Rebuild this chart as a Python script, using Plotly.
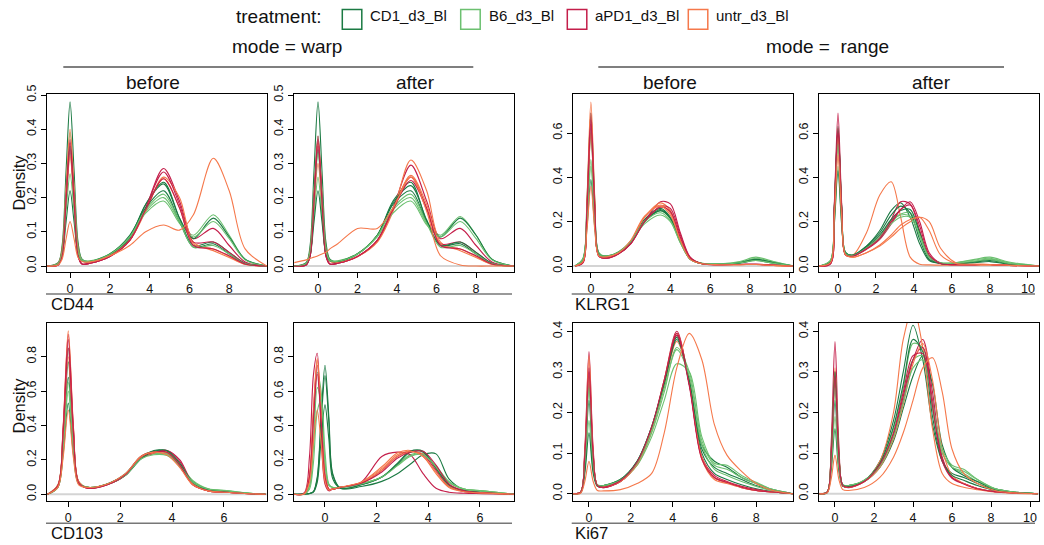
import plotly.graph_objects as go

# ---------------- data ----------------
treatments = ["CD1_d3_Bl", "B6_d3_Bl", "aPD1_d3_Bl", "untr_d3_Bl"]
colors = ["#1b7a43", "#6cc070", "#c41e4a", "#f5784b"]

# CD44, mode = warp, before
cd44_before_x = [-1.2, -0.6, -0.4, -0.2, 0, 0.2, 0.4, 0.6, 1.0, 2.0, 3.0, 3.8, 4.7, 5.5, 6.2, 7.2, 8.0, 8.8, 9.9]
cd44_before = {
    "CD1_d3_Bl": [
        [0, 0.01, 0.06, 0.28, 0.48, 0.28, 0.07, 0.02, 0.012, 0.03, 0.08, 0.18, 0.245, 0.14, 0.06, 0.07, 0.04, 0.008, 0],
        [0, 0.007, 0.045, 0.2, 0.35, 0.2, 0.05, 0.017, 0.013, 0.032, 0.085, 0.18, 0.24, 0.14, 0.08, 0.14, 0.085, 0.02, 0],
        [0, 0.005, 0.03, 0.13, 0.22, 0.13, 0.035, 0.015, 0.013, 0.035, 0.09, 0.17, 0.22, 0.13, 0.055, 0.065, 0.035, 0.007, 0]],
    "B6_d3_Bl": [
        [0, 0.008, 0.05, 0.23, 0.39, 0.23, 0.055, 0.018, 0.014, 0.035, 0.085, 0.16, 0.20, 0.13, 0.09, 0.15, 0.09, 0.02, 0],
        [0, 0.007, 0.04, 0.19, 0.33, 0.19, 0.05, 0.018, 0.015, 0.036, 0.085, 0.155, 0.19, 0.125, 0.085, 0.13, 0.08, 0.018, 0],
        [0, 0.006, 0.035, 0.16, 0.27, 0.16, 0.04, 0.016, 0.014, 0.034, 0.085, 0.165, 0.21, 0.13, 0.055, 0.06, 0.035, 0.007, 0]],
    "aPD1_d3_Bl": [
        [0, 0.003, 0.03, 0.2, 0.37, 0.2, 0.03, 0.006, 0.008, 0.028, 0.075, 0.17, 0.285, 0.19, 0.08, 0.11, 0.06, 0.012, 0],
        [0, 0.003, 0.03, 0.2, 0.36, 0.2, 0.03, 0.006, 0.008, 0.028, 0.075, 0.17, 0.275, 0.18, 0.07, 0.07, 0.04, 0.008, 0],
        [0, 0.003, 0.028, 0.19, 0.34, 0.19, 0.03, 0.006, 0.008, 0.028, 0.075, 0.165, 0.255, 0.17, 0.06, 0.05, 0.03, 0.006, 0]],
    "untr_d3_Bl": [
        [0, 0.008, 0.05, 0.23, 0.40, 0.23, 0.055, 0.016, 0.012, 0.03, 0.075, 0.16, 0.26, 0.2, 0.07, 0.045, 0.025, 0.005, 0],
        [0, 0.007, 0.04, 0.19, 0.32, 0.19, 0.045, 0.015, 0.012, 0.03, 0.075, 0.165, 0.255, 0.17, 0.065, 0.05, 0.028, 0.005, 0],
        [0, 0.003, 0.02, 0.08, 0.13, 0.08, 0.025, 0.013, 0.012, 0.03, 0.06, 0.1, 0.12, 0.105, 0.15, 0.315, 0.22, 0.05, 0]],
}

# CD44, mode = warp, after
cd44_after_x = [-1.2, -0.6, -0.4, -0.2, 0, 0.2, 0.4, 0.6, 1.0, 2.0, 3.0, 3.8, 4.7, 5.5, 6.2, 7.2, 8.0, 8.8, 9.9]
cd44_after = {
    "CD1_d3_Bl": [
        [0, 0.01, 0.06, 0.28, 0.48, 0.28, 0.07, 0.02, 0.012, 0.035, 0.09, 0.19, 0.245, 0.13, 0.06, 0.065, 0.035, 0.007, 0],
        [0, 0.007, 0.045, 0.2, 0.34, 0.2, 0.05, 0.017, 0.013, 0.035, 0.09, 0.18, 0.22, 0.13, 0.085, 0.14, 0.09, 0.02, 0],
        [0, 0.005, 0.03, 0.13, 0.22, 0.13, 0.035, 0.015, 0.013, 0.036, 0.09, 0.185, 0.235, 0.135, 0.06, 0.07, 0.04, 0.008, 0]],
    "B6_d3_Bl": [
        [0, 0.008, 0.05, 0.22, 0.38, 0.22, 0.055, 0.018, 0.014, 0.036, 0.09, 0.165, 0.20, 0.125, 0.09, 0.145, 0.09, 0.02, 0],
        [0, 0.006, 0.035, 0.15, 0.26, 0.15, 0.04, 0.016, 0.015, 0.036, 0.085, 0.155, 0.19, 0.12, 0.085, 0.13, 0.08, 0.018, 0],
        [0, 0.007, 0.04, 0.19, 0.33, 0.19, 0.045, 0.016, 0.014, 0.035, 0.088, 0.17, 0.21, 0.125, 0.055, 0.06, 0.035, 0.007, 0]],
    "aPD1_d3_Bl": [
        [0, 0.003, 0.03, 0.2, 0.38, 0.2, 0.03, 0.006, 0.008, 0.028, 0.075, 0.17, 0.295, 0.19, 0.08, 0.11, 0.06, 0.012, 0],
        [0, 0.003, 0.03, 0.2, 0.37, 0.2, 0.03, 0.006, 0.008, 0.028, 0.075, 0.17, 0.26, 0.17, 0.065, 0.07, 0.04, 0.008, 0],
        [0, 0.003, 0.028, 0.19, 0.35, 0.19, 0.03, 0.006, 0.008, 0.028, 0.075, 0.165, 0.25, 0.165, 0.06, 0.05, 0.03, 0.006, 0]],
    "untr_d3_Bl": [
        [0, 0.007, 0.045, 0.21, 0.36, 0.21, 0.05, 0.015, 0.011, 0.028, 0.07, 0.16, 0.31, 0.22, 0.07, 0.045, 0.025, 0.005, 0],
        [0, 0.006, 0.04, 0.18, 0.30, 0.18, 0.045, 0.014, 0.011, 0.028, 0.072, 0.165, 0.265, 0.18, 0.065, 0.05, 0.028, 0.005, 0],
        [0.01, 0.018, 0.022, 0.026, 0.03, 0.035, 0.04, 0.05, 0.065, 0.11, 0.11, 0.17, 0.26, 0.16, 0.03, 0.003, 0, 0, 0]],
}

# KLRG1, mode = range, before
klrg1_before_x = [-0.8, -0.4, -0.2, 0, 0.2, 0.4, 0.8, 1.4, 2.0, 2.7, 3.5, 4.0, 4.5, 5.0, 5.6, 6.5, 7.5, 8.3, 9.2, 10.2]
klrg1_before = {
    "CD1_d3_Bl": [
        [0, 0.03, 0.29, 0.69, 0.29, 0.06, 0.04, 0.06, 0.11, 0.21, 0.26, 0.22, 0.11, 0.03, 0.01, 0.008, 0.015, 0.03, 0.015, 0],
        [0, 0.03, 0.25, 0.60, 0.25, 0.055, 0.04, 0.058, 0.105, 0.2, 0.255, 0.215, 0.11, 0.03, 0.01, 0.008, 0.013, 0.025, 0.012, 0],
        [0, 0.025, 0.17, 0.39, 0.17, 0.05, 0.045, 0.062, 0.11, 0.2, 0.25, 0.215, 0.11, 0.032, 0.011, 0.008, 0.015, 0.03, 0.015, 0]],
    "B6_d3_Bl": [
        [0, 0.035, 0.26, 0.62, 0.26, 0.06, 0.045, 0.065, 0.11, 0.2, 0.25, 0.215, 0.11, 0.033, 0.012, 0.01, 0.02, 0.04, 0.02, 0],
        [0, 0.03, 0.21, 0.48, 0.21, 0.055, 0.045, 0.065, 0.11, 0.19, 0.23, 0.2, 0.105, 0.032, 0.012, 0.01, 0.018, 0.035, 0.018, 0],
        [0, 0.03, 0.2, 0.45, 0.2, 0.05, 0.045, 0.062, 0.11, 0.2, 0.24, 0.205, 0.105, 0.03, 0.011, 0.009, 0.015, 0.025, 0.012, 0]],
    "aPD1_d3_Bl": [
        [0, 0.015, 0.27, 0.69, 0.27, 0.045, 0.035, 0.055, 0.1, 0.2, 0.29, 0.28, 0.15, 0.04, 0.01, 0.006, 0.007, 0.008, 0.004, 0],
        [0, 0.015, 0.26, 0.66, 0.26, 0.045, 0.035, 0.055, 0.1, 0.2, 0.27, 0.26, 0.14, 0.038, 0.01, 0.006, 0.007, 0.008, 0.004, 0],
        [0, 0.015, 0.25, 0.64, 0.25, 0.045, 0.036, 0.056, 0.1, 0.2, 0.265, 0.245, 0.13, 0.035, 0.01, 0.006, 0.007, 0.008, 0.004, 0]],
    "untr_d3_Bl": [
        [0, 0.02, 0.3, 0.74, 0.3, 0.05, 0.04, 0.06, 0.11, 0.22, 0.285, 0.25, 0.12, 0.032, 0.01, 0.006, 0.006, 0.007, 0.003, 0],
        [0, 0.02, 0.25, 0.60, 0.25, 0.05, 0.04, 0.06, 0.11, 0.22, 0.275, 0.24, 0.12, 0.032, 0.01, 0.006, 0.006, 0.007, 0.003, 0],
        [0, 0.02, 0.16, 0.36, 0.16, 0.045, 0.042, 0.06, 0.115, 0.225, 0.27, 0.23, 0.115, 0.03, 0.01, 0.006, 0.006, 0.007, 0.003, 0]],
}

# KLRG1, mode = range, after
klrg1_after_x = [-1.0, -0.4, -0.2, 0, 0.2, 0.4, 0.8, 1.5, 2.2, 2.8, 3.3, 3.8, 4.3, 4.8, 5.4, 6.2, 7.2, 8.0, 9.0, 10.6]
klrg1_after = {
    "CD1_d3_Bl": [
        [0, 0.02, 0.26, 0.63, 0.26, 0.06, 0.05, 0.09, 0.16, 0.25, 0.285, 0.22, 0.1, 0.025, 0.012, 0.012, 0.02, 0.03, 0.012, 0],
        [0, 0.02, 0.25, 0.61, 0.25, 0.06, 0.048, 0.085, 0.14, 0.21, 0.25, 0.255, 0.15, 0.04, 0.012, 0.01, 0.018, 0.025, 0.01, 0],
        [0, 0.02, 0.18, 0.43, 0.18, 0.055, 0.05, 0.09, 0.15, 0.23, 0.27, 0.24, 0.12, 0.03, 0.012, 0.01, 0.015, 0.02, 0.008, 0]],
    "B6_d3_Bl": [
        [0, 0.025, 0.26, 0.62, 0.26, 0.06, 0.048, 0.08, 0.13, 0.2, 0.235, 0.24, 0.15, 0.045, 0.015, 0.015, 0.03, 0.04, 0.018, 0],
        [0, 0.025, 0.19, 0.45, 0.19, 0.055, 0.048, 0.08, 0.13, 0.2, 0.23, 0.225, 0.135, 0.04, 0.015, 0.015, 0.027, 0.035, 0.015, 0],
        [0, 0.025, 0.23, 0.55, 0.23, 0.055, 0.047, 0.08, 0.125, 0.19, 0.22, 0.22, 0.14, 0.04, 0.014, 0.013, 0.022, 0.03, 0.012, 0]],
    "aPD1_d3_Bl": [
        [0, 0.01, 0.27, 0.69, 0.27, 0.05, 0.045, 0.08, 0.13, 0.21, 0.29, 0.28, 0.16, 0.04, 0.01, 0.006, 0.006, 0.007, 0.003, 0],
        [0, 0.01, 0.24, 0.60, 0.24, 0.05, 0.045, 0.075, 0.12, 0.19, 0.255, 0.29, 0.2, 0.06, 0.012, 0.006, 0.006, 0.007, 0.003, 0],
        [0, 0.01, 0.25, 0.62, 0.25, 0.05, 0.045, 0.078, 0.125, 0.2, 0.255, 0.275, 0.18, 0.05, 0.011, 0.006, 0.006, 0.007, 0.003, 0]],
    "untr_d3_Bl": [
        [0, 0.015, 0.22, 0.55, 0.22, 0.05, 0.05, 0.15, 0.32, 0.38, 0.22, 0.04, 0.008, 0.005, 0.004, 0.004, 0.004, 0.004, 0.002, 0],
        [0, 0.015, 0.24, 0.58, 0.24, 0.05, 0.04, 0.06, 0.09, 0.13, 0.17, 0.2, 0.22, 0.2, 0.08, 0.015, 0.008, 0.007, 0.003, 0],
        [0, 0.015, 0.21, 0.50, 0.21, 0.05, 0.04, 0.06, 0.095, 0.14, 0.185, 0.21, 0.22, 0.16, 0.05, 0.012, 0.008, 0.007, 0.003, 0]],
}

# CD103, mode = warp, before
cd103_before_x = [-0.8, -0.4, -0.2, 0, 0.2, 0.4, 0.75, 1.5, 2.2, 2.8, 3.3, 3.8, 4.3, 4.8, 5.4, 6.1, 6.8, 7.6]
cd103_before = {
    "CD1_d3_Bl": [
        [0, 0.05, 0.33, 0.77, 0.33, 0.07, 0.04, 0.06, 0.12, 0.22, 0.25, 0.24, 0.16, 0.06, 0.025, 0.015, 0.006, 0],
        [0, 0.045, 0.3, 0.68, 0.3, 0.065, 0.04, 0.06, 0.115, 0.21, 0.255, 0.25, 0.17, 0.065, 0.025, 0.015, 0.006, 0],
        [0, 0.04, 0.23, 0.53, 0.23, 0.06, 0.04, 0.058, 0.11, 0.205, 0.25, 0.255, 0.18, 0.07, 0.027, 0.016, 0.006, 0]],
    "B6_d3_Bl": [
        [0, 0.055, 0.36, 0.85, 0.36, 0.075, 0.04, 0.06, 0.115, 0.215, 0.24, 0.23, 0.17, 0.075, 0.03, 0.022, 0.008, 0],
        [0, 0.045, 0.28, 0.65, 0.28, 0.065, 0.04, 0.058, 0.11, 0.21, 0.235, 0.235, 0.175, 0.08, 0.032, 0.022, 0.008, 0],
        [0, 0.04, 0.26, 0.60, 0.26, 0.06, 0.04, 0.058, 0.11, 0.205, 0.23, 0.225, 0.165, 0.07, 0.03, 0.02, 0.008, 0]],
    "aPD1_d3_Bl": [
        [0, 0.05, 0.38, 0.93, 0.38, 0.07, 0.035, 0.055, 0.11, 0.215, 0.245, 0.255, 0.19, 0.06, 0.02, 0.012, 0.005, 0],
        [0, 0.05, 0.37, 0.90, 0.37, 0.07, 0.035, 0.055, 0.11, 0.21, 0.24, 0.255, 0.2, 0.065, 0.02, 0.012, 0.005, 0],
        [0, 0.05, 0.35, 0.85, 0.35, 0.065, 0.036, 0.056, 0.115, 0.22, 0.245, 0.245, 0.17, 0.055, 0.02, 0.012, 0.005, 0]],
    "untr_d3_Bl": [
        [0, 0.055, 0.39, 0.95, 0.39, 0.075, 0.038, 0.058, 0.115, 0.22, 0.245, 0.24, 0.165, 0.055, 0.02, 0.012, 0.005, 0],
        [0, 0.05, 0.33, 0.80, 0.33, 0.07, 0.038, 0.058, 0.115, 0.215, 0.24, 0.245, 0.175, 0.06, 0.02, 0.012, 0.005, 0],
        [0, 0.04, 0.21, 0.49, 0.21, 0.055, 0.04, 0.06, 0.12, 0.22, 0.245, 0.23, 0.155, 0.055, 0.02, 0.012, 0.005, 0]],
}

# CD103, mode = warp, after
cd103_after_x = [-1.2, -0.8, -0.6, -0.45, -0.3, -0.15, 0, 0.15, 0.3, 0.6, 1.4, 2.2, 2.8, 3.3, 3.8, 4.3, 4.8, 5.4, 6.1, 7.35]
cd103_after = {
    "CD1_d3_Bl": [
        [0, 0.002, 0.005, 0.015, 0.1, 0.45, 0.75, 0.45, 0.12, 0.035, 0.045, 0.075, 0.12, 0.175, 0.23, 0.235, 0.09, 0.025, 0.01, 0],
        [0, 0.002, 0.005, 0.014, 0.09, 0.42, 0.69, 0.42, 0.11, 0.035, 0.055, 0.1, 0.18, 0.25, 0.25, 0.15, 0.055, 0.02, 0.012, 0],
        [0, 0.002, 0.004, 0.012, 0.07, 0.32, 0.52, 0.32, 0.09, 0.035, 0.055, 0.1, 0.175, 0.245, 0.245, 0.15, 0.055, 0.02, 0.012, 0]],
    "B6_d3_Bl": [
        [0, 0.002, 0.05, 0.31, 0.71, 0.6, 0.19, 0.055, 0.04, 0.04, 0.06, 0.1, 0.17, 0.23, 0.235, 0.16, 0.07, 0.03, 0.02, 0],
        [0, 0.002, 0.045, 0.27, 0.62, 0.52, 0.17, 0.05, 0.04, 0.04, 0.06, 0.1, 0.17, 0.225, 0.23, 0.165, 0.075, 0.03, 0.02, 0],
        [0, 0.002, 0.03, 0.18, 0.48, 0.55, 0.25, 0.06, 0.04, 0.04, 0.06, 0.1, 0.165, 0.22, 0.23, 0.16, 0.07, 0.03, 0.02, 0]],
    "aPD1_d3_Bl": [
        [0, 0.01, 0.22, 0.69, 0.82, 0.35, 0.06, 0.02, 0.03, 0.04, 0.07, 0.22, 0.245, 0.23, 0.12, 0.035, 0.012, 0.006, 0.004, 0],
        [0, 0.003, 0.1, 0.46, 0.75, 0.46, 0.11, 0.03, 0.03, 0.04, 0.065, 0.14, 0.22, 0.25, 0.23, 0.14, 0.05, 0.015, 0.008, 0],
        [0, 0.003, 0.1, 0.43, 0.70, 0.43, 0.1, 0.03, 0.03, 0.04, 0.065, 0.13, 0.21, 0.245, 0.25, 0.17, 0.06, 0.02, 0.01, 0]],
    "untr_d3_Bl": [
        [0, 0.004, 0.11, 0.48, 0.79, 0.48, 0.11, 0.03, 0.03, 0.04, 0.07, 0.16, 0.24, 0.255, 0.22, 0.13, 0.045, 0.015, 0.008, 0],
        [0, 0.004, 0.11, 0.48, 0.78, 0.48, 0.11, 0.03, 0.03, 0.04, 0.065, 0.14, 0.22, 0.245, 0.235, 0.15, 0.05, 0.018, 0.009, 0],
        [0, 0.003, 0.07, 0.3, 0.49, 0.3, 0.075, 0.025, 0.03, 0.042, 0.07, 0.15, 0.23, 0.25, 0.22, 0.12, 0.04, 0.015, 0.008, 0]],
}

# Ki67, mode = range, before
ki67_before_x = [-0.77, -0.4, -0.2, 0, 0.2, 0.4, 0.7, 1.5, 2.3, 3.0, 3.6, 4.2, 4.8, 5.4, 6.0, 6.6, 7.3, 8.0, 8.8, 9.75]
ki67_before = {
    "CD1_d3_Bl": [
        [0, 0.004, 0.09, 0.27, 0.09, 0.02, 0.018, 0.03, 0.075, 0.16, 0.27, 0.39, 0.28, 0.12, 0.08, 0.065, 0.04, 0.025, 0.01, 0],
        [0, 0.003, 0.075, 0.23, 0.075, 0.02, 0.02, 0.035, 0.08, 0.165, 0.275, 0.385, 0.27, 0.1, 0.05, 0.035, 0.022, 0.012, 0.005, 0],
        [0, 0.002, 0.05, 0.15, 0.05, 0.018, 0.02, 0.035, 0.08, 0.165, 0.27, 0.38, 0.28, 0.11, 0.065, 0.05, 0.035, 0.02, 0.008, 0]],
    "B6_d3_Bl": [
        [0, 0.004, 0.095, 0.29, 0.095, 0.022, 0.02, 0.032, 0.07, 0.15, 0.25, 0.36, 0.3, 0.13, 0.07, 0.06, 0.04, 0.025, 0.01, 0],
        [0, 0.003, 0.06, 0.18, 0.06, 0.02, 0.02, 0.035, 0.07, 0.14, 0.23, 0.32, 0.3, 0.14, 0.075, 0.07, 0.045, 0.028, 0.01, 0],
        [0, 0.004, 0.085, 0.26, 0.085, 0.02, 0.02, 0.033, 0.075, 0.155, 0.26, 0.355, 0.29, 0.12, 0.06, 0.045, 0.03, 0.018, 0.007, 0]],
    "aPD1_d3_Bl": [
        [0, 0.004, 0.11, 0.35, 0.11, 0.02, 0.015, 0.03, 0.075, 0.16, 0.28, 0.4, 0.27, 0.09, 0.04, 0.028, 0.015, 0.008, 0.004, 0],
        [0, 0.004, 0.1, 0.31, 0.1, 0.02, 0.015, 0.03, 0.075, 0.16, 0.275, 0.395, 0.27, 0.09, 0.045, 0.03, 0.018, 0.01, 0.005, 0],
        [0, 0.004, 0.095, 0.3, 0.095, 0.02, 0.016, 0.032, 0.078, 0.165, 0.28, 0.39, 0.265, 0.085, 0.04, 0.028, 0.016, 0.008, 0.004, 0]],
    "untr_d3_Bl": [
        [0, 0.004, 0.105, 0.34, 0.105, 0.02, 0.016, 0.03, 0.075, 0.16, 0.28, 0.395, 0.275, 0.085, 0.035, 0.025, 0.015, 0.008, 0.004, 0],
        [0, 0.004, 0.09, 0.29, 0.09, 0.02, 0.017, 0.03, 0.072, 0.155, 0.265, 0.375, 0.28, 0.09, 0.04, 0.028, 0.016, 0.008, 0.004, 0],
        [0, 0.001, 0.03, 0.08, 0.03, 0.008, 0.007, 0.01, 0.025, 0.05, 0.15, 0.31, 0.395, 0.33, 0.17, 0.095, 0.055, 0.025, 0.008, 0]],
}

# Ki67, mode = range, after
ki67_after_x = [-0.8, -0.4, -0.2, 0, 0.2, 0.4, 0.7, 1.5, 2.3, 3.0, 3.5, 4.0, 4.5, 5.0, 5.5, 6.0, 6.6, 7.3, 8.2, 9.2, 10.4]
ki67_after = {
    "CD1_d3_Bl": [
        [0, 0.003, 0.075, 0.23, 0.075, 0.02, 0.018, 0.032, 0.08, 0.18, 0.3, 0.415, 0.33, 0.17, 0.08, 0.05, 0.04, 0.025, 0.01, 0.003, 0],
        [0, 0.002, 0.055, 0.16, 0.055, 0.018, 0.02, 0.03, 0.065, 0.13, 0.21, 0.29, 0.34, 0.27, 0.12, 0.065, 0.045, 0.03, 0.012, 0.004, 0],
        [0, 0.004, 0.1, 0.3, 0.1, 0.022, 0.018, 0.032, 0.075, 0.165, 0.27, 0.38, 0.35, 0.19, 0.08, 0.045, 0.033, 0.02, 0.008, 0.003, 0]],
    "B6_d3_Bl": [
        [0, 0.004, 0.09, 0.28, 0.09, 0.022, 0.02, 0.033, 0.075, 0.16, 0.26, 0.37, 0.36, 0.21, 0.1, 0.065, 0.05, 0.03, 0.012, 0.004, 0],
        [0, 0.003, 0.065, 0.19, 0.065, 0.02, 0.02, 0.033, 0.07, 0.15, 0.24, 0.33, 0.34, 0.21, 0.1, 0.065, 0.055, 0.035, 0.013, 0.004, 0],
        [0, 0.004, 0.085, 0.26, 0.085, 0.02, 0.02, 0.033, 0.068, 0.14, 0.225, 0.31, 0.33, 0.22, 0.11, 0.07, 0.06, 0.035, 0.012, 0.004, 0]],
    "aPD1_d3_Bl": [
        [0, 0.004, 0.12, 0.375, 0.12, 0.02, 0.015, 0.03, 0.07, 0.14, 0.23, 0.33, 0.38, 0.25, 0.09, 0.04, 0.025, 0.013, 0.005, 0.002, 0],
        [0, 0.004, 0.095, 0.3, 0.095, 0.02, 0.016, 0.03, 0.07, 0.145, 0.24, 0.33, 0.36, 0.23, 0.085, 0.04, 0.025, 0.013, 0.005, 0.002, 0],
        [0, 0.004, 0.09, 0.29, 0.09, 0.02, 0.016, 0.03, 0.072, 0.15, 0.25, 0.34, 0.345, 0.215, 0.08, 0.038, 0.024, 0.012, 0.005, 0.002, 0]],
    "untr_d3_Bl": [
        [0, 0.004, 0.1, 0.31, 0.1, 0.02, 0.016, 0.03, 0.08, 0.2, 0.38, 0.46, 0.36, 0.16, 0.05, 0.025, 0.016, 0.01, 0.004, 0.001, 0],
        [0, 0.004, 0.095, 0.30, 0.095, 0.02, 0.016, 0.03, 0.065, 0.135, 0.22, 0.32, 0.37, 0.28, 0.11, 0.045, 0.025, 0.013, 0.005, 0.002, 0],
        [0, 0.002, 0.035, 0.095, 0.035, 0.01, 0.008, 0.015, 0.04, 0.09, 0.15, 0.23, 0.31, 0.335, 0.25, 0.11, 0.05, 0.025, 0.008, 0.002, 0]],
}

markers = ["CD44", "KLRG1", "CD103", "Ki67"]
mode_titles = ["mode = warp", "mode =\u00a0 range"]
stage_titles = ["before", "after"]

# ---------------- layout helpers ----------------
W, H = 1044, 545
def px(x):
    return x / W
def py(y):
    return 1 - y / H

FONT = "Liberation Sans, Arial, Helvetica, sans-serif"

panels = [
    dict(x=cd44_before_x, d=cd44_before, bx=(47, 267), by=(94, 272), xr=[-1.16, 9.9], yr=[-0.0175, 0.503],
         xt=[0, 2, 4, 6, 8], yt=[0, 0.1, 0.2, 0.3, 0.4, 0.5]),
    dict(x=cd44_after_x, d=cd44_after, bx=(294, 514), by=(94, 272), xr=[-1.215, 9.92], yr=[-0.0175, 0.503],
         xt=[0, 2, 4, 6, 8], yt=[0, 0.1, 0.2, 0.3, 0.4, 0.5]),
    dict(x=klrg1_before_x, d=klrg1_before, bx=(573, 793), by=(94, 272), xr=[-0.9, 10.17], yr=[-0.027, 0.776],
         xt=[0, 2, 4, 6, 8, 10], yt=[0, 0.2, 0.4, 0.6]),
    dict(x=klrg1_after_x, d=klrg1_after, bx=(819, 1039), by=(94, 272), xr=[-1.0, 10.58], yr=[-0.027, 0.776],
         xt=[0, 2, 4, 6, 8, 10], yt=[0, 0.2, 0.4, 0.6]),
    dict(x=cd103_before_x, d=cd103_before, bx=(47, 267), by=(323, 501), xr=[-0.82, 7.66], yr=[-0.039, 0.996],
         xt=[0, 2, 4, 6], yt=[0, 0.2, 0.4, 0.6, 0.8]),
    dict(x=cd103_after_x, d=cd103_after, bx=(294, 514), by=(323, 501), xr=[-1.2, 7.32], yr=[-0.039, 0.996],
         xt=[0, 2, 4, 6], yt=[0, 0.2, 0.4, 0.6, 0.8]),
    dict(x=ki67_before_x, d=ki67_before, bx=(573, 793), by=(323, 501), xr=[-0.765, 9.76], yr=[-0.018, 0.4205],
         xt=[0, 2, 4, 6, 8], yt=[0, 0.1, 0.2, 0.3, 0.4]),
    dict(x=ki67_after_x, d=ki67_after, bx=(819, 1039), by=(323, 501), xr=[-0.82, 10.46], yr=[-0.018, 0.4205],
         xt=[0, 2, 4, 6, 8, 10], yt=[0, 0.1, 0.2, 0.3, 0.4]),
]

fig = go.Figure()
layout = dict(width=W, height=H, margin=dict(l=0, r=0, t=0, b=0, autoexpand=False), paper_bgcolor="white",
              plot_bgcolor="white", showlegend=False, font=dict(family=FONT, color="#111"))
shapes = []
annotations = []

for i, p in enumerate(panels):
    n = i + 1
    xa = "x" if n == 1 else f"x{n}"
    ya = "y" if n == 1 else f"y{n}"
    # zero baseline
    shapes.append(dict(type="line", xref=f"{xa} domain", yref=ya, x0=0, x1=1, y0=0, y1=0,
                       line=dict(color="#d4d4d4", width=2), layer="below"))
    for s in range(3):
        for t, tr in enumerate(treatments):
            fig.add_trace(go.Scatter(x=p["x"], y=p["d"][tr][s], mode="lines", xaxis=xa, yaxis=ya,
                                     line=dict(color=colors[t], width=1.1, shape="spline", smoothing=0.9),
                                     hoverinfo="skip"))
    axis_common = dict(showline=True, mirror=True, linecolor="black", linewidth=1, ticks="outside",
                       ticklen=5, tickwidth=1, tickcolor="black", showgrid=False, zeroline=False,
                       tickfont=dict(size=12.5, family=FONT, color="#111"))
    layout[f"xaxis{'' if n == 1 else n}"] = dict(axis_common, domain=[px(p["bx"][0]), px(p["bx"][1])],
                                                 range=p["xr"], tickvals=p["xt"], anchor=ya)
    layout[f"yaxis{'' if n == 1 else n}"] = dict(axis_common, domain=[py(p["by"][1]), py(p["by"][0])],
                                                 range=p["yr"], tickvals=p["yt"], tickformat=".1f",
                                                 tickangle=-90, anchor=xa)

# legend
annotations.append(dict(text="treatment:", x=px(278.5), y=py(16.5), xref="paper", yref="paper",
                        showarrow=False, font=dict(size=19, family=FONT, color="#111"),
                        xanchor="center", yanchor="middle"))
leg_sq = [342.3, 460.7, 567.3, 688.3]
leg_tx = [368, 486.7, 593, 714.3]
for t, tr in enumerate(treatments):
    shapes.append(dict(type="rect", xref="paper", yref="paper", x0=px(leg_sq[t]), x1=px(leg_sq[t] + 19.5),
                       y0=py(29.3), y1=py(9.5), line=dict(color=colors[t], width=1.5)))
    annotations.append(dict(text=tr, x=px(leg_tx[t]), y=py(15.5), xref="paper", yref="paper",
                            showarrow=False, font=dict(size=15, family=FONT, color="#111"),
                            xanchor="left", yanchor="middle"))

# mode titles and underlines
for cx, txt, (lx0, lx1) in [(286.7, mode_titles[0], (63.3, 473.3)), (827.8, mode_titles[1], (598.3, 1004))]:
    annotations.append(dict(text=txt, x=px(cx), y=py(46.7), xref="paper", yref="paper", showarrow=False,
                            font=dict(size=19, family=FONT, color="#111"), xanchor="center", yanchor="middle"))
    shapes.append(dict(type="line", xref="paper", yref="paper", x0=px(lx0), x1=px(lx1), y0=py(67), y1=py(67),
                       line=dict(color="#555555", width=1.3)))

# stage titles
for cx, txt in [(153.3, stage_titles[0]), (415.5, stage_titles[1]), (670.3, stage_titles[0]), (931.7, stage_titles[1])]:
    annotations.append(dict(text=txt, x=px(cx), y=py(82.7), xref="paper", yref="paper", showarrow=False,
                            font=dict(size=19, family=FONT, color="#111"), xanchor="center", yanchor="middle"))

# marker labels and separators
for (lx, ly, sy, sx0, sx1, mk) in [(49, 304, 294, 46, 512, markers[0]), (573, 304, 294, 571.7, 1035, markers[1]),
                                   (49, 533.5, 523.3, 46, 512, markers[2]), (573, 533.5, 523.3, 571.7, 1035, markers[3])]:
    annotations.append(dict(text=mk, x=px(lx), y=py(ly), xref="paper", yref="paper", showarrow=False,
                            font=dict(size=16.7, family=FONT, color="#111"), xanchor="left", yanchor="middle"))
    shapes.append(dict(type="line", xref="paper", yref="paper", x0=px(sx0), x1=px(sx1), y0=py(sy), y1=py(sy),
                       line=dict(color="#777777", width=1.5)))

# Density labels
for cy in [183, 406]:
    annotations.append(dict(text="Density", x=px(18.5), y=py(cy), xref="paper", yref="paper", showarrow=False,
                            textangle=-90, font=dict(size=16.5, family=FONT, color="#111"),
                            xanchor="center", yanchor="middle"))

layout["shapes"] = shapes
layout["annotations"] = annotations
fig.update_layout(**layout)
fig.write_html("out.html", config={"displayModeBar": False, "staticPlot": True},
               post_script="document.body.style.margin='0px';document.body.style.overflow='hidden';")
